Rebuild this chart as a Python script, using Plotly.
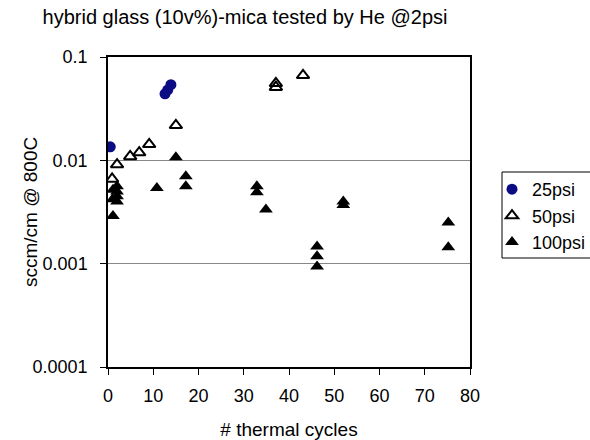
import plotly.graph_objects as go

# data
cyc_25 = [0.5, 12.6, 13.2, 13.9]
val_25 = [0.0135, 0.044, 0.048, 0.054]

cyc_50 = [0.9, 2.0, 4.9, 6.9, 9.1, 15.0, 37.1, 37.1, 43.1]
val_50 = [0.0066, 0.0091, 0.0109, 0.0119, 0.0143, 0.0218, 0.051, 0.0556, 0.0665]

cyc_100 = [1.1, 1.0, 2.0, 1.1, 2.0, 2.0, 2.0, 10.8, 15.0, 17.2, 17.2,
           32.9, 32.9, 34.9, 46.2, 46.2, 46.2, 52.0, 52.0, 75.2, 75.2]
val_100 = [0.0029, 0.0042, 0.0040, 0.0052, 0.0045, 0.0056, 0.0050, 0.0054, 0.0107, 0.0070, 0.0056,
           0.0056, 0.0049, 0.00335, 0.00147, 0.00118, 0.00094, 0.0040, 0.0037, 0.0025, 0.00144]

x_ticks = [0, 10, 20, 30, 40, 50, 60, 70, 80]
y_ticks = [0.0001, 0.001, 0.01, 0.1]
y_tick_text = ["0.0001", "0.001", "0.01", "0.1"]

FONT = "Liberation Sans, Arial, sans-serif"

fig = go.Figure()
fig.add_trace(go.Scatter(x=cyc_25, y=val_25, mode="markers", name="25psi", legendgroup="a",
                         marker=dict(symbol="circle", size=11, color="#0b0b84",
                                     line=dict(width=0))))
fig.add_trace(go.Scatter(x=cyc_50, y=val_50, mode="markers", name="50psi", legendgroup="b",
                         marker=dict(symbol="triangle-up-open", size=11, color="black",
                                     line=dict(width=2, color="black"))))
fig.add_trace(go.Scatter(x=cyc_100, y=val_100, mode="markers", name="100psi", legendgroup="c",
                         marker=dict(symbol="triangle-up", size=12, color="black",
                                     line=dict(width=0))))

# legend frame (extends past the right edge as in the reference)
fig.add_shape(type="rect", xref="paper", yref="paper",
              x0=(502 - 108) / 362, x1=(600 - 108) / 362,
              y0=(367 - 258) / 310, y1=(367 - 172) / 310,
              line=dict(color="black", width=1), fillcolor="rgba(0,0,0,0)",
              layer="above")

# y-axis title
fig.add_annotation(text="sccm/cm @ 800C", textangle=-90, showarrow=False,
                   xref="paper", yref="paper", x=(30 - 108) / 362, y=0.5,
                   xanchor="center", yanchor="middle",
                   font=dict(size=19, family=FONT, color="black"))

fig.update_layout(
    width=590, height=440,
    margin=dict(l=108, r=120, t=57, b=73),
    paper_bgcolor="white", plot_bgcolor="white",
    font=dict(family=FONT, size=18, color="black"),
    title=dict(text="hybrid glass (10v%)-mica tested by He @2psi",
               x=245 / 590, xanchor="center", y=1 - 17 / 440, yanchor="middle",
               font=dict(size=20, family=FONT, color="black")),
    showlegend=True,
    legend=dict(xref="container", yref="container",
                x=492 / 590, xanchor="left", y=1 - 171 / 440, yanchor="top",
                borderwidth=0, bgcolor="rgba(0,0,0,0)",
                font=dict(size=18, family=FONT), itemwidth=30,
                traceorder="grouped", tracegroupgap=0),
    xaxis=dict(range=[0, 80], tickvals=x_ticks, ticks="outside", ticklen=6,
               tickcolor="black", showline=True, linecolor="black", linewidth=1.5,
               mirror=True, showgrid=False, zeroline=False, automargin=False,
               ticklabelstandoff=6,
               title=dict(text="# thermal cycles", standoff=19,
                          font=dict(size=19, family=FONT)),
               tickfont=dict(size=18, family=FONT)),
    yaxis=dict(type="log", range=[-4, -1], tickvals=y_ticks, ticktext=y_tick_text,
               ticks="outside", ticklen=6, tickcolor="black",
               showline=True, linecolor="black", linewidth=1.5, mirror=True,
               showgrid=True, gridcolor="#888888", gridwidth=1.2,
               zeroline=False, automargin=False, ticklabelstandoff=9,
               tickfont=dict(size=18, family=FONT)),
)

fig.write_html("out.html")
